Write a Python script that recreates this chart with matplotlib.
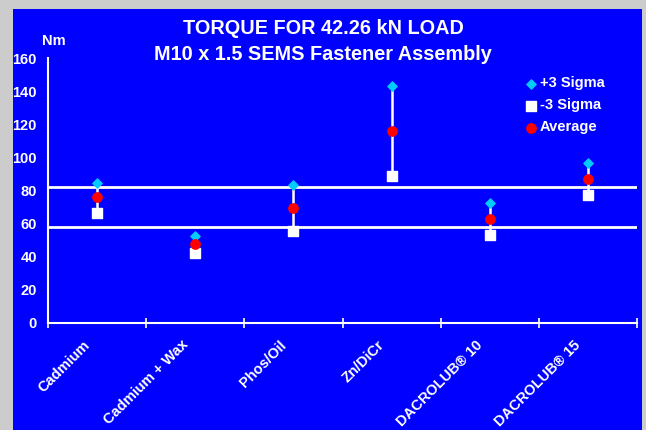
import matplotlib.pyplot as plt
from matplotlib.patches import Rectangle

plt.rcParams['font.family'] = ['Liberation Sans', 'DejaVu Sans']

# data (Nm)
coatings = ["Cadmium", "Cadmium + Wax", "Phos/Oil", "Zn/DiCr",
            "DACROLUB\u00ae 10", "DACROLUB\u00ae 15"]
plus3 = [84.6, 52.5, 83.0, 143.1, 72.5, 96.7]
minus3 = [66.4, 41.9, 55.5, 88.6, 52.9, 77.1]
average = [75.9, 47.3, 69.3, 115.8, 62.8, 86.8]
limit_hi = 82.2
limit_lo = 57.8

blue = "#0000ff"
fig = plt.figure(figsize=(6.46, 4.30), dpi=100, facecolor="#cccccc")
fig.patches.append(Rectangle((13 / 646, 0), 629 / 646, 421 / 430,
                             transform=fig.transFigure, facecolor=blue,
                             edgecolor="none", zorder=-10))

ax = fig.add_axes([48 / 646, 1 - 322.5 / 430, 589 / 646, 264.5 / 430])
ax.patch.set_alpha(0)

x = [i + 0.5 for i in range(len(coatings))]

ax.axhline(limit_hi, color="white", lw=2, zorder=1)
ax.axhline(limit_lo, color="white", lw=2, zorder=1)

ax.vlines(x, minus3, plus3, color="white", lw=1.8, zorder=2)
ax.scatter(x, plus3, marker="D", s=22, color="#00ccff", zorder=3, label="+3 Sigma")
ax.scatter(x, minus3, marker="s", s=45, color="white", zorder=3, label="-3 Sigma")
ax.scatter(x, average, marker="o", s=45, color="red", zorder=4, label="Average")

ax.set_xlim(0, 6)
ax.set_ylim(0, 160)
ax.set_yticks(range(0, 161, 20))
ax.set_xticks(range(0, 7))
ax.set_xticklabels([])
ax.tick_params(axis="y", length=0, pad=8, colors="white", labelsize=10.5)
ax.tick_params(axis="x", direction="inout", length=7, width=1.2, color="white")
for lab in ax.get_yticklabels():
    lab.set_fontweight("bold")

for s in ["top", "right"]:
    ax.spines[s].set_visible(False)
for s in ["left", "bottom"]:
    ax.spines[s].set_color("white")
    ax.spines[s].set_linewidth(1.5)

for xi, name in zip(x, coatings):
    ax.annotate(name, (xi, 0), xytext=(-10.5, -11), textcoords="offset points",
                rotation=45, ha="right", va="top", rotation_mode="anchor",
                color="white", fontsize=10.5, fontweight="bold")

fig.text(323 / 646, 1 - 28 / 430, "TORQUE FOR 42.26 kN LOAD", ha="center", va="center",
         color="white", fontsize=14.3, fontweight="bold")
fig.text(323 / 646, 1 - 54 / 430, "M10 x 1.5 SEMS Fastener Assembly", ha="center",
         va="center", color="white", fontsize=14.3, fontweight="bold")
fig.text(54 / 646, 1 - 41 / 430, "Nm", ha="center", va="center",
         color="white", fontsize=10.5, fontweight="bold")

leg = ax.legend(loc="upper left", bbox_to_anchor=(0.785, 0.98), frameon=False,
                handletextpad=0.1, labelspacing=0.55, handlelength=1.0,
                prop={"weight": "bold", "size": 10.5})
for t in leg.get_texts():
    t.set_color("white")

fig.savefig("out.png", dpi=100, facecolor=fig.get_facecolor())
